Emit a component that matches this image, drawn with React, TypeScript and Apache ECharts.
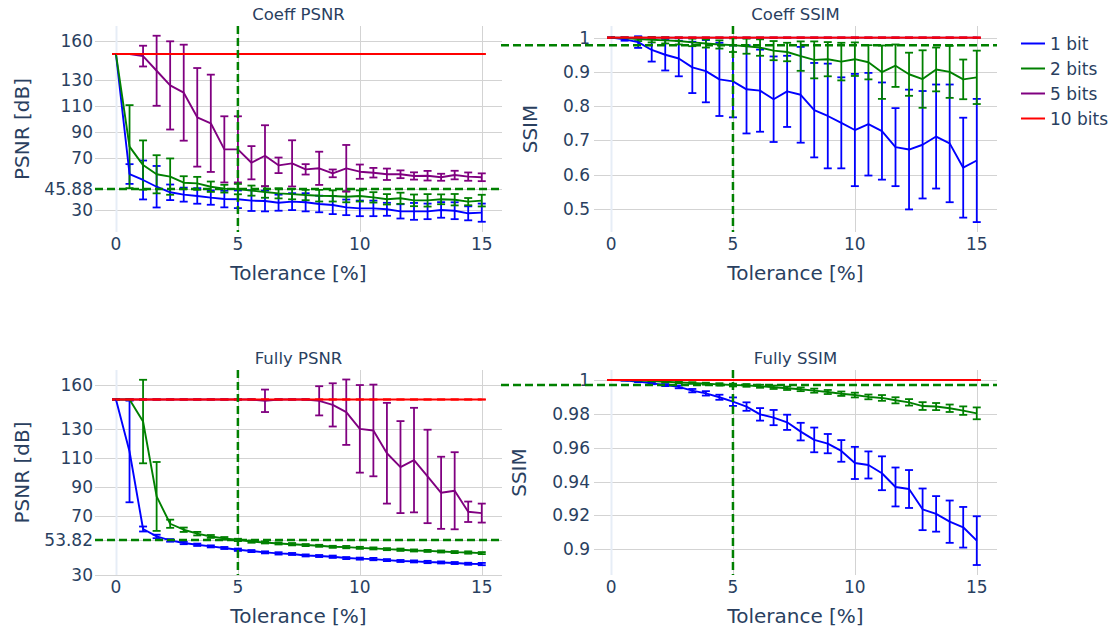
import React, { useEffect, useRef } from 'react';
import * as echarts from 'echarts';

// ---------------- data ----------------
const TOLERANCE = [0, 0.556, 1.111, 1.667, 2.222, 2.778, 3.333, 3.889, 4.444, 5, 5.556, 6.111, 6.667, 7.222, 7.778, 8.333, 8.889, 9.444, 10, 10.556, 11.111, 11.667, 12.222, 12.778, 13.333, 13.889, 14.444, 15];
const BIT_NAMES = ['1 bit', '2 bits', '5 bits', '10 bits'];

const X_TICKS = [0, 5, 10, 15];
const COEFF_PSNR_TICKS = [30, 45.88, 70, 90, 110, 130, 160];
const COEFF_SSIM_TICKS = [0.5, 0.6, 0.7, 0.8, 0.9, 1];
const FULLY_PSNR_TICKS = [30, 53.82, 70, 90, 110, 130, 160];
const FULLY_SSIM_TICKS = [0.9, 0.92, 0.94, 0.96, 0.98, 1];
const TOLERANCE_LIMIT = 5;

// Coeff PSNR
const COEFF_PSNR_1 = [150, 57.5, 52.9, 47.7, 43.4, 41.6, 40.6, 39.3, 38.2, 38.0, 37.0, 36.7, 35.4, 36.2, 35.7, 34.4, 33.6, 31.8, 31.0, 31.0, 30.3, 28.7, 28.7, 28.7, 29.8, 29.2, 27.2, 27.7];
const COEFF_PSNR_1_ERR = [0, 7.6, 15, 16, 6, 5.4, 6, 5.5, 6.4, 6.8, 8, 8, 6.2, 6.5, 7, 6.4, 7, 6, 6, 6, 5, 5.5, 6.5, 6, 6, 6.5, 5.4, 7];
const COEFF_PSNR_2 = [150, 78.6, 64.4, 57.3, 55.5, 50.8, 50.3, 47.7, 46.2, 45.88, 44.7, 43.6, 42.6, 42.0, 41.3, 40.8, 40.6, 40.0, 40.6, 39.5, 38.0, 38.8, 37.2, 37.2, 38.0, 37.7, 36.2, 37.0];
const COEFF_PSNR_2_ERR = [0, 32, 19, 14.7, 14, 5, 5, 4, 3, 4, 3.9, 4.4, 3.9, 4, 4, 4.5, 4.3, 4.3, 4.3, 4, 4, 4.3, 4.5, 4.8, 3.8, 4.4, 2.8, 4.5];
const COEFF_PSNR_5 = [150, 150, 148.4, 137.1, 125.8, 120.2, 101.2, 96.6, 76.5, 76.5, 66.2, 71.6, 64.2, 65.7, 61.1, 61.9, 58.0, 61.9, 59.3, 58.5, 57.3, 57.3, 56.0, 56.2, 55.0, 56.7, 55.5, 55.0];
const COEFF_PSNR_5_ERR = [0, 0, 8, 27, 34, 37, 38, 37.5, 25.5, 25.5, 12.8, 23.5, 6, 17.8, 4, 12.8, 3, 18, 5.5, 3.7, 4.4, 3, 2.8, 3.7, 2.7, 3.3, 3.2, 3];
const COEFF_PSNR_10 = [150, 150, 150, 150, 150, 150, 150, 150, 150, 150, 150, 150, 150, 150, 150, 150, 150, 150, 150, 150, 150, 150, 150, 150, 150, 150, 150, 150];
const COEFF_PSNR_10_ERR = [0, 0, 0, 0, 0, 0, 0, 0, 0, 0, 0, 0, 0, 0, 0, 0, 0, 0, 0, 0, 0, 0, 0, 0, 0, 0, 0, 0];

// Coeff SSIM
const COEFF_SSIM_1 = [1, 0.995, 0.987, 0.964, 0.950, 0.939, 0.913, 0.902, 0.878, 0.872, 0.849, 0.845, 0.820, 0.843, 0.833, 0.788, 0.771, 0.751, 0.730, 0.747, 0.727, 0.680, 0.673, 0.687, 0.711, 0.691, 0.620, 0.641];
const COEFF_SSIM_1_ERR = [0, 0.004, 0.017, 0.034, 0.046, 0.052, 0.075, 0.091, 0.107, 0.105, 0.129, 0.12, 0.125, 0.104, 0.14, 0.138, 0.153, 0.133, 0.164, 0.15, 0.142, 0.114, 0.175, 0.157, 0.152, 0.172, 0.146, 0.18];
const COEFF_SSIM_2 = [1, 0.999, 0.996, 0.994, 0.992, 0.990, 0.986, 0.983, 0.980, 0.978, 0.975, 0.971, 0.962, 0.958, 0.946, 0.935, 0.937, 0.930, 0.937, 0.928, 0.899, 0.918, 0.893, 0.879, 0.907, 0.900, 0.878, 0.884];
const COEFF_SSIM_2_ERR = [0, 0.002, 0.006, 0.008, 0.009, 0.01, 0.011, 0.012, 0.012, 0.02, 0.022, 0.024, 0.028, 0.027, 0.043, 0.054, 0.05, 0.055, 0.049, 0.05, 0.078, 0.062, 0.063, 0.084, 0.064, 0.076, 0.058, 0.078];
const COEFF_SSIM_5 = [1, 1, 1, 1, 1, 1, 1, 1, 1, 1, 1, 1, 1, 1, 1, 1, 1, 1, 1, 1, 1, 1, 1, 1, 1, 1, 1, 1];
const COEFF_SSIM_5_ERR = [0, 0, 0, 0, 0, 0, 0, 0, 0, 0, 0, 0, 0, 0, 0, 0, 0, 0, 0, 0, 0, 0, 0, 0, 0, 0, 0, 0];
const COEFF_SSIM_10 = [1, 1, 1, 1, 1, 1, 1, 1, 1, 1, 1, 1, 1, 1, 1, 1, 1, 1, 1, 1, 1, 1, 1, 1, 1, 1, 1, 1];
const COEFF_SSIM_10_ERR = [0, 0, 0, 0, 0, 0, 0, 0, 0, 0, 0, 0, 0, 0, 0, 0, 0, 0, 0, 0, 0, 0, 0, 0, 0, 0, 0, 0];

// Fully PSNR
const FULLY_PSNR_1 = [150, 114.4, 61.3, 56.2, 53.5, 51.7, 50.5, 49.4, 48.3, 47.1, 46.2, 45.3, 44.6, 44.2, 43.2, 42.8, 42.3, 41.4, 41.0, 40.7, 40.0, 39.4, 39.1, 38.7, 38.4, 38.0, 37.5, 37.3];
const FULLY_PSNR_1_ERR = [0, 34.8, 1.7, 1.2, 0.9, 0.8, 0.8, 0.7, 0.7, 0.8, 0.7, 0.7, 0.8, 0.7, 0.7, 0.7, 0.8, 0.7, 0.7, 0.8, 0.7, 0.7, 0.7, 0.8, 0.7, 0.7, 0.7, 0.8];
const FULLY_PSNR_2 = [150, 150, 134.9, 83.6, 64.9, 60.8, 58.1, 56.2, 54.9, 53.82, 52.7, 52.1, 51.4, 50.9, 50.3, 49.8, 49.1, 48.9, 48.4, 48.0, 47.5, 47.1, 46.6, 46.3, 45.9, 45.5, 45.2, 44.8];
const FULLY_PSNR_2_ERR = [0, 0, 28.6, 23.6, 2.8, 1.5, 1.2, 1.0, 0.9, 0.8, 0.8, 0.7, 0.7, 0.8, 0.7, 0.7, 0.7, 0.8, 0.7, 0.7, 0.7, 0.8, 0.7, 0.7, 0.7, 0.7, 0.8, 0.7];
const FULLY_PSNR_5 = [150, 150, 150, 150, 150, 150, 150, 150, 150, 150, 150, 149.1, 150, 150, 150, 149.1, 146.3, 141.3, 129.9, 128.8, 113.2, 103.7, 108.5, 97.3, 86.1, 87.5, 73.1, 72.2];
const FULLY_PSNR_5_ERR = [0, 0, 0, 0, 0, 0, 0, 0, 0, 0, 0, 7.7, 0, 0, 0, 10, 14.8, 22.4, 30, 31.4, 34.5, 31.5, 35.8, 32, 24.7, 26.4, 7, 6.5];
const FULLY_PSNR_10 = [150, 150, 150, 150, 150, 150, 150, 150, 150, 150, 150, 150, 150, 150, 150, 150, 150, 150, 150, 150, 150, 150, 150, 150, 150, 150, 150, 150];
const FULLY_PSNR_10_ERR = [0, 0, 0, 0, 0, 0, 0, 0, 0, 0, 0, 0, 0, 0, 0, 0, 0, 0, 0, 0, 0, 0, 0, 0, 0, 0, 0, 0];

// Fully SSIM
const FULLY_SSIM_1 = [1, 0.9998, 0.999, 0.998, 0.997, 0.9959, 0.9937, 0.9921, 0.9898, 0.9872, 0.9843, 0.9797, 0.9778, 0.975, 0.9695, 0.9646, 0.9624, 0.9581, 0.951, 0.9498, 0.9449, 0.9368, 0.9356, 0.9236, 0.9209, 0.9163, 0.913, 0.9051];
const FULLY_SSIM_1_ERR = [0, 0.0002, 0.0003, 0.0005, 0.0006, 0.0008, 0.001, 0.0013, 0.0015, 0.0025, 0.0025, 0.0037, 0.0045, 0.0045, 0.0052, 0.0073, 0.0057, 0.0064, 0.0095, 0.008, 0.01, 0.0115, 0.0112, 0.0123, 0.0105, 0.0125, 0.012, 0.0144];
const FULLY_SSIM_2 = [1, 0.9999, 0.9996, 0.9994, 0.999, 0.9986, 0.9982, 0.9978, 0.9974, 0.997, 0.9968, 0.9963, 0.9957, 0.9951, 0.9945, 0.9937, 0.9929, 0.9919, 0.9911, 0.99, 0.9894, 0.988, 0.9868, 0.9846, 0.9843, 0.9833, 0.9819, 0.9803];
const FULLY_SSIM_2_ERR = [0, 0.0001, 0.0002, 0.0003, 0.0004, 0.0005, 0.0005, 0.0006, 0.0007, 0.0008, 0.0008, 0.0009, 0.001, 0.001, 0.0011, 0.0012, 0.0012, 0.0013, 0.0014, 0.0014, 0.0017, 0.0018, 0.0019, 0.0023, 0.0021, 0.0022, 0.0025, 0.0035];
const FULLY_SSIM_5 = [1, 1, 1, 1, 1, 1, 1, 1, 1, 1, 1, 1, 1, 1, 1, 1, 1, 1, 1, 1, 1, 1, 1, 1, 1, 1, 1, 1];
const FULLY_SSIM_5_ERR = [0, 0, 0, 0, 0, 0, 0, 0, 0, 0, 0, 0, 0, 0, 0, 0, 0, 0, 0, 0, 0, 0, 0, 0, 0, 0, 0, 0];
const FULLY_SSIM_10 = [1, 1, 1, 1, 1, 1, 1, 1, 1, 1, 1, 1, 1, 1, 1, 1, 1, 1, 1, 1, 1, 1, 1, 1, 1, 1, 1, 1];
const FULLY_SSIM_10_ERR = [0, 0, 0, 0, 0, 0, 0, 0, 0, 0, 0, 0, 0, 0, 0, 0, 0, 0, 0, 0, 0, 0, 0, 0, 0, 0, 0, 0];

// ---------------- styling ----------------
const FONT = 'DejaVu Sans';
const TEXT = '#2a3f5f';
const GRID_COLOR = '#d3d3d3';
const ZERO_COLOR = '#e6edf6';
const BIT_COLORS = ['#0000ff', '#008000', '#800080', '#ff0000'];
const REF_COLOR = '#008000';

const LIMIT_INDEX = TOLERANCE.indexOf(TOLERANCE_LIMIT);

const PANELS = [
  {
    title: 'Coeff PSNR', yName: 'PSNR [dB]', yTicks: COEFF_PSNR_TICKS,
    values: [COEFF_PSNR_1, COEFF_PSNR_2, COEFF_PSNR_5, COEFF_PSNR_10],
    errors: [COEFF_PSNR_1_ERR, COEFF_PSNR_2_ERR, COEFF_PSNR_5_ERR, COEFF_PSNR_10_ERR],
    grid: { left: 95, top: 26, width: 407, height: 206 },
    xMin: -0.86, xMax: 15.83, yMin: 12.8, yMax: 171.6,
    labelMargin: 2, nameGap: 63, refLeft: 0, refRight: 1,
  },
  {
    title: 'Coeff SSIM', yName: 'SSIM', yTicks: COEFF_SSIM_TICKS,
    values: [COEFF_SSIM_1, COEFF_SSIM_2, COEFF_SSIM_5, COEFF_SSIM_10],
    errors: [COEFF_SSIM_1_ERR, COEFF_SSIM_2_ERR, COEFF_SSIM_5_ERR, COEFF_SSIM_10_ERR],
    grid: { left: 594, top: 26, width: 403, height: 206 },
    xMin: -0.7, xMax: 15.83, yMin: 0.432, yMax: 1.034,
    labelMargin: 4, nameGap: 54, refLeft: -93, refRight: 0,
  },
  {
    title: 'Fully PSNR', yName: 'PSNR [dB]', yTicks: FULLY_PSNR_TICKS,
    values: [FULLY_PSNR_1, FULLY_PSNR_2, FULLY_PSNR_5, FULLY_PSNR_10],
    errors: [FULLY_PSNR_1_ERR, FULLY_PSNR_2_ERR, FULLY_PSNR_5_ERR, FULLY_PSNR_10_ERR],
    grid: { left: 95, top: 370, width: 407, height: 205 },
    xMin: -0.86, xMax: 15.83, yMin: 29.8, yMax: 170.2,
    labelMargin: 2, nameGap: 63, refLeft: 0, refRight: 1,
  },
  {
    title: 'Fully SSIM', yName: 'SSIM', yTicks: FULLY_SSIM_TICKS,
    values: [FULLY_SSIM_1, FULLY_SSIM_2, FULLY_SSIM_5, FULLY_SSIM_10],
    errors: [FULLY_SSIM_1_ERR, FULLY_SSIM_2_ERR, FULLY_SSIM_5_ERR, FULLY_SSIM_10_ERR],
    grid: { left: 594, top: 370, width: 403, height: 205 },
    xMin: -0.7, xMax: 15.83, yMin: 0.8848, yMax: 1.0059,
    labelMargin: 4, nameGap: 65, refLeft: -93, refRight: 0,
  },
];

const fmt = (v: number) => String(+Number(v).toFixed(4));

function errorBarRenderer(color: string) {
  return (params: any, api: any) => {
    const x = api.value(0);
    const y = api.value(1);
    const e = api.value(2);
    const p1 = api.coord([x, y + e]);
    const p2 = api.coord([x, y - e]);
    const hw = 4;
    const style = { stroke: color, lineWidth: 1.8, fill: 'none' };
    return {
      type: 'group',
      silent: true,
      children: [
        { type: 'line', shape: { x1: p1[0], y1: p1[1], x2: p2[0], y2: p2[1] }, style },
        { type: 'line', shape: { x1: p1[0] - hw, y1: p1[1], x2: p1[0] + hw, y2: p1[1] }, style },
        { type: 'line', shape: { x1: p2[0] - hw, y1: p2[1], x2: p2[0] + hw, y2: p2[1] }, style },
      ],
    };
  };
}

function buildOption() {
  const grids: any[] = [];
  const xAxes: any[] = [];
  const yAxes: any[] = [];
  const titles: any[] = [];
  const series: any[] = [];

  PANELS.forEach((p, g) => {
    grids.push({ ...p.grid, containLabel: false });
    titles.push({
      text: p.title,
      left: p.grid.left + p.grid.width / 2,
      top: p.grid.top - 20,
      textAlign: 'center',
      padding: 0,
      textStyle: { fontFamily: FONT, fontSize: 16.5, fontWeight: 'normal', color: TEXT },
    });
    xAxes.push({
      type: 'value', gridIndex: g, min: p.xMin, max: p.xMax,
      name: 'Tolerance [%]', nameLocation: 'middle', nameGap: 31,
      nameTextStyle: { fontFamily: FONT, fontSize: 20, color: TEXT },
      axisLine: { show: false }, axisTick: { show: false }, splitLine: { show: false },
      axisLabel: { customValues: X_TICKS, formatter: fmt, margin: 3, fontFamily: FONT, fontSize: 17, color: TEXT },
    });
    yAxes.push({
      type: 'value', gridIndex: g, min: p.yMin, max: p.yMax,
      name: p.yName, nameLocation: 'middle', nameGap: p.nameGap,
      nameTextStyle: { fontFamily: FONT, fontSize: 20, color: TEXT },
      axisLine: { show: false }, axisTick: { show: false }, splitLine: { show: false },
      axisLabel: { customValues: p.yTicks, formatter: fmt, margin: p.labelMargin, fontFamily: FONT, fontSize: 17, color: TEXT },
    });

    // grid lines
    series.push({
      type: 'custom', xAxisIndex: g, yAxisIndex: g, z: 1, silent: true, clip: false,
      data: [[X_TICKS[0], p.yTicks[0]]], encode: { x: 0, y: 1 },
      renderItem: (params: any, api: any) => {
        const cs = params.coordSys;
        const children: any[] = [];
        p.yTicks.forEach((v) => {
          const y = Math.round(api.coord([X_TICKS[0], v])[1]) + 0.5;
          children.push({ type: 'line', shape: { x1: cs.x, y1: y, x2: cs.x + cs.width, y2: y }, style: { stroke: GRID_COLOR, lineWidth: 1 } });
        });
        X_TICKS.forEach((v) => {
          const x = Math.round(api.coord([v, p.yTicks[0]])[0]) + 0.5;
          children.push({
            type: 'line', shape: { x1: x, y1: cs.y, x2: x, y2: cs.y + cs.height },
            style: { stroke: v === 0 ? ZERO_COLOR : GRID_COLOR, lineWidth: v === 0 ? 2 : 1 },
          });
        });
        return { type: 'group', children };
      },
    });

    // traces
    BIT_NAMES.forEach((name, t) => {
      const color = BIT_COLORS[t];
      series.push({
        type: 'line', name, xAxisIndex: g, yAxisIndex: g, z: 2,
        data: TOLERANCE.map((x, i) => [x, p.values[t][i]]),
        showSymbol: false, symbol: 'none', silent: true,
        lineStyle: { width: 1.9, color },
        itemStyle: { color },
      });
      series.push({
        type: 'custom', name, xAxisIndex: g, yAxisIndex: g, z: 2, silent: true, clip: false,
        data: TOLERANCE.map((x, i) => [x, p.values[t][i], p.errors[t][i]]),
        encode: { x: 0, y: 1 },
        itemStyle: { color },
        renderItem: errorBarRenderer(color),
      });
    });

    // reference lines: 2-bit value at the tolerance limit
    series.push({
      type: 'custom', xAxisIndex: g, yAxisIndex: g, z: 5, silent: true, clip: false,
      data: [[TOLERANCE_LIMIT, p.values[1][LIMIT_INDEX]]], encode: { x: 0, y: 1 },
      renderItem: (params: any, api: any) => {
        const cs = params.coordSys;
        const pt = api.coord([api.value(0), api.value(1)]);
        const style = { stroke: REF_COLOR, lineWidth: 2.5, lineDash: [8, 4] };
        return {
          type: 'group',
          children: [
            { type: 'line', shape: { x1: cs.x + p.refLeft, y1: pt[1], x2: cs.x + cs.width + p.refRight, y2: pt[1] }, style },
            { type: 'line', shape: { x1: pt[0], y1: cs.y, x2: pt[0], y2: cs.y + cs.height }, style },
          ],
        };
      },
    });
  });

  return {
    animation: false,
    backgroundColor: '#ffffff',
    textStyle: { fontFamily: FONT },
    title: titles,
    legend: {
      data: BIT_NAMES.map((name, t) => ({ name, icon: 'rect', itemStyle: { color: BIT_COLORS[t] } })),
      orient: 'vertical',
      left: 1021,
      top: 35,
      padding: 0,
      itemWidth: 24,
      itemHeight: 2,
      itemGap: 8,
      textStyle: { fontFamily: FONT, fontSize: 17, color: TEXT, lineHeight: 17 },
    },
    grid: grids,
    xAxis: xAxes,
    yAxis: yAxes,
    series,
  };
}

export default function App() {
  const ref = useRef<HTMLDivElement>(null);
  useEffect(() => {
    if (!ref.current) return;
    const chart = echarts.init(ref.current, undefined, { renderer: 'svg' });
    chart.setOption(buildOption() as any);
    return () => chart.dispose();
  }, []);
  return (
    <div
      ref={ref}
      style={{ position: 'fixed', left: 0, top: 0, width: 1110, height: 632, background: '#fff' }}
    />
  );
}
